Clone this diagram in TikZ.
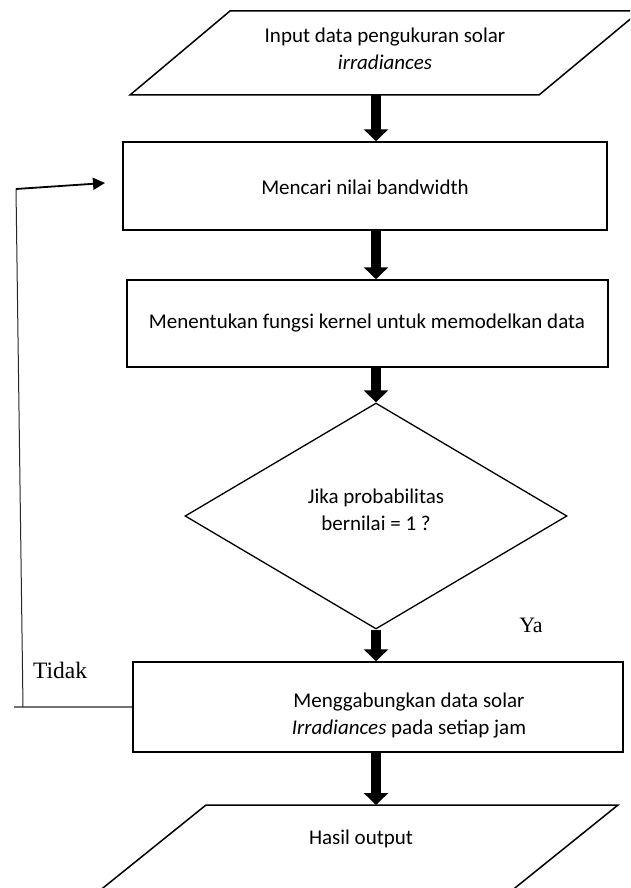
\documentclass[tikz,border=0pt]{standalone}
\usepackage{fontspec}
\setmainfont{Carlito}
\newfontfamily\tnr{Liberation Serif}
\usetikzlibrary{arrows.meta,shapes.geometric}
\begin{document}
\begin{tikzpicture}[x=1pt,y=-1pt,
  box/.style={draw,line width=1.5pt,inner sep=0pt},
  frame/.style={inner sep=0pt,outer sep=0pt},
  lbl/.style={font=\fontsize{21}{27}\selectfont,align=center,inner sep=0pt},
  big/.style={line width=10pt,-{Triangle[width=24pt,length=12pt]}},
  seriflbl/.style={font=\tnr\fontsize{22}{25}\selectfont,inner sep=0pt},
  fbline/.style={line width=1pt,black!85},
  fbgray/.style={line width=1.5pt,black!55},
  fbarrow/.style={line width=1.8pt,-{Triangle[width=12pt,length=12pt]}}]
\useasboundingbox (0,0) rectangle (630,888);
\clip (0,0) rectangle (630,888);
\coordinate (col) at (376,0);
% input parallelogram
\node[frame,minimum width=510pt,minimum height=84pt] (in) at (385,53) {};
\draw[line width=1.5pt] (130,95) -- (539,95) -- (640,11) -- (230,11) -- cycle;
\node[lbl] (inlbl) at (385,49) {Input data pengukuran solar\\\textit{irradiances}};
% box 1
\node[box,minimum width=484pt,minimum height=88pt] (b1) at (365,186) {};
\node[lbl] (b1lbl) at (365,187) {Mencari nilai bandwidth};
% box 2
\node[box,minimum width=481pt,minimum height=87pt] (b2) at (367.5,323.5) {};
\node[lbl] (b2lbl) at (367,323) {Menentukan fungsi kernel untuk memodelkan data};
% diamond
\node[diamond,draw,line width=1.3pt,minimum width=382pt,minimum height=226pt,inner sep=0pt] (d) at (376,516) {};
\node[lbl] (dlbl) at (376,510) {Jika probabilitas\\bernilai = 1 ?};
% box 3
\node[box,minimum width=490pt,minimum height=90pt] (b3) at (378,707) {};
\node[lbl] (b3lbl) at (409,715) {Menggabungkan data solar\\\textit{Irradiances} pada setiap jam};
% output parallelogram
\node[frame,minimum width=530pt,minimum height=95pt] (out) at (353,852.5) {};
\draw[line width=1.5pt] (206,805) -- (618,805) -- (500,900) -- (88,900) -- cycle;
\node[lbl] (outlbl) at (361,839) {Hasil output};
% main arrows
\draw[big] (in.south -| col) -- (b1.north -| col);
\draw[big] (b1.south -| col) -- (b2.north -| col);
\draw[big] (b2.south -| col) -- (d.north -| col);
\draw[big] (d.south -| col) -- (b3.north -| col);
\draw[big] (b3.south -| col) -- (out.north -| col);
% labels
\node[seriflbl] (ya) at (531,625) {Ya};
\node[seriflbl,font=\tnr\fontsize{23.5}{26}\selectfont] (tidak) at (60,670) {Tidak};
% feedback loop
\coordinate (fbh) at (14,707);
\coordinate (fbb) at (23,707);
\coordinate (fbt) at (16,189);
\coordinate (fbtip) at (105,183);
\draw[fbgray] (fbh) -- (b3.west);
\draw[fbline] (fbb) -- (fbt);
\draw[fbarrow] (fbt) -- (fbtip);
\end{tikzpicture}
\end{document}
